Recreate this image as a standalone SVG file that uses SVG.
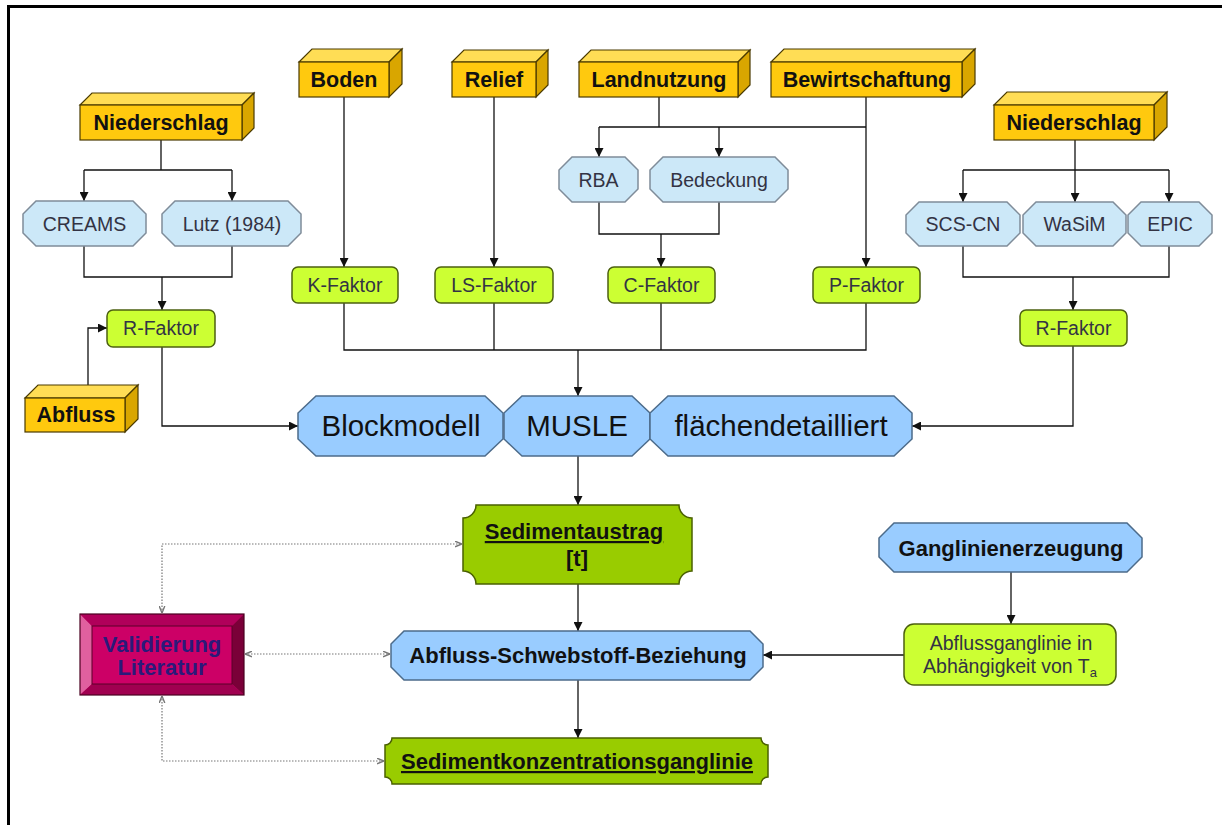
<svg xmlns="http://www.w3.org/2000/svg" width="1222" height="825" viewBox="0 0 1222 825">
  <style>
    text { font-family: "Liberation Sans", Arial, sans-serif; text-anchor: middle; }
    .src { font-size: 21.5px; font-weight: bold; fill: #111; }
    .sm  { font-size: 19.5px; fill: #333344; }
    .big { font-size: 29.5px; fill: #111; }
    .bd  { font-size: 22px; font-weight: bold; fill: #111; }
    .front { fill: #FFC90E; stroke: #4a3a00; stroke-width: 1.2; }
    .top   { fill: #FFDD55; stroke: #4a3a00; stroke-width: 1.2; }
    .side  { fill: #D9A600; stroke: #4a3a00; stroke-width: 1.2; }
    .model { fill: #CCE8F8; stroke: #7F8C99; stroke-width: 1.5; }
    .fac   { fill: #CCFF33; stroke: #4C6010; stroke-width: 1.5; }
    .main  { fill: #99CCFF; stroke: #4C6B8A; stroke-width: 1.5; }
    .out   { fill: #99CC00; stroke: #4A6000; stroke-width: 1.5; }
    .wire  { fill: none; stroke: #111; stroke-width: 1.3; }
    .dot   { fill: none; stroke: #777; stroke-width: 1.2; stroke-dasharray: 1.5 1.5; }
  </style>
  <defs>
    <marker id="arr" viewBox="0 0 10 10" refX="10" refY="5" markerUnits="userSpaceOnUse" markerWidth="9" markerHeight="9" preserveAspectRatio="none" orient="auto">
      <path d="M0,0 L10,5 L0,10 Z" fill="#111"/>
    </marker>
    <marker id="darr" viewBox="0 0 10 10" refX="10" refY="5" markerUnits="userSpaceOnUse" markerWidth="7" markerHeight="7" preserveAspectRatio="none" orient="auto-start-reverse">
      <path d="M0,1 L10,5 L0,9" fill="none" stroke="#777" stroke-width="2"/>
    </marker>
  </defs>

  <rect width="1222" height="825" fill="#FFFFFF"/>
  <!-- page frame -->
  <path d="M1222,6.5 H8.5 V825" fill="none" stroke="#000" stroke-width="3"/>

  <!-- connectors -->
  <g id="connectors">
    <path class="wire" d="M161,140 V170 M84,170 H232"/>
    <path class="wire" d="M84,170 V201" marker-end="url(#arr)"/>
    <path class="wire" d="M232,170 V201" marker-end="url(#arr)"/>
    <path class="wire" d="M84,246 V277 H232 V246"/>
    <path class="wire" d="M162,277 V310" marker-end="url(#arr)"/>
    <path class="wire" d="M344,97 V267" marker-end="url(#arr)"/>
    <path class="wire" d="M88,385 V328 H107" marker-end="url(#arr)"/>
    <path class="wire" d="M162,347 V426 H298" marker-end="url(#arr)"/>
    <path class="wire" d="M494,97 V267" marker-end="url(#arr)"/>
    <path class="wire" d="M659,97 V127 M599,127 H866"/>
    <path class="wire" d="M599,127 V157" marker-end="url(#arr)"/>
    <path class="wire" d="M719,127 V157" marker-end="url(#arr)"/>
    <path class="wire" d="M599,202 V234 H719 V202"/>
    <path class="wire" d="M661,234 V267" marker-end="url(#arr)"/>
    <path class="wire" d="M866,97 V267" marker-end="url(#arr)"/>
    <path class="wire" d="M1075,140 V202" marker-end="url(#arr)"/>
    <path class="wire" d="M963,170 H1169"/>
    <path class="wire" d="M963,170 V202" marker-end="url(#arr)"/>
    <path class="wire" d="M1169,170 V202" marker-end="url(#arr)"/>
    <path class="wire" d="M963,246 V277 H1169 V246"/>
    <path class="wire" d="M1073,277 V310" marker-end="url(#arr)"/>
    <path class="wire" d="M344,303 V350 H866 V303 M494,303 V350 M661,303 V350"/>
    <path class="wire" d="M578,350 V396" marker-end="url(#arr)"/>
    <path class="wire" d="M1073,346 V426 H912" marker-end="url(#arr)"/>
    <path class="wire" d="M578,456 V505" marker-end="url(#arr)"/>
    <path class="wire" d="M578,584 V631" marker-end="url(#arr)"/>
    <path class="wire" d="M578,680 V738" marker-end="url(#arr)"/>
    <path class="wire" d="M1011,572 V624" marker-end="url(#arr)"/>
    <path class="wire" d="M904,655 H763" marker-end="url(#arr)"/>
    <!-- validation links -->
    <path class="dot" d="M162,613 V544 H462" marker-start="url(#darr)" marker-end="url(#darr)"/>
    <path class="dot" d="M245,654 H390" marker-start="url(#darr)" marker-end="url(#darr)"/>
    <path class="dot" d="M162,696 V761 H384" marker-start="url(#darr)" marker-end="url(#darr)"/>
  </g>

  <!-- input data blocks -->
  <g id="niederschlag-links">
    <polygon class="top" points="80,105 92,93 254,93 242,105"/>
    <polygon class="side" points="242,105 254,93 254,128 242,140"/>
    <rect class="front" x="80" y="105" width="162" height="35"/>
    <text class="src" x="161" y="130">Niederschlag</text>
  </g>
  <g id="boden">
    <polygon class="top" points="299,62 312,49 402,49 389,62"/>
    <polygon class="side" points="389,62 402,49 402,84 389,97"/>
    <rect class="front" x="299" y="62" width="90" height="35"/>
    <text class="src" x="344" y="87">Boden</text>
  </g>
  <g id="relief">
    <polygon class="top" points="452,62 464,50 548,50 536,62"/>
    <polygon class="side" points="536,62 548,50 548,85 536,97"/>
    <rect class="front" x="452" y="62" width="84" height="35"/>
    <text class="src" x="494" y="87">Relief</text>
  </g>
  <g id="landnutzung">
    <polygon class="top" points="579,62 591,50 750,50 738,62"/>
    <polygon class="side" points="738,62 750,50 750,85 738,97"/>
    <rect class="front" x="579" y="62" width="159" height="35"/>
    <text class="src" x="659" y="87">Landnutzung</text>
  </g>
  <g id="bewirtschaftung">
    <polygon class="top" points="771,62 784,49 975,49 962,62"/>
    <polygon class="side" points="962,62 975,49 975,84 962,97"/>
    <rect class="front" x="771" y="62" width="191" height="35"/>
    <text class="src" x="867" y="87">Bewirtschaftung</text>
  </g>
  <g id="niederschlag-rechts">
    <polygon class="top" points="994,105 1007,92 1167,92 1154,105"/>
    <polygon class="side" points="1154,105 1167,92 1167,127 1154,140"/>
    <rect class="front" x="994" y="105" width="160" height="35"/>
    <text class="src" x="1074" y="130">Niederschlag</text>
  </g>
  <g id="abfluss">
    <polygon class="top" points="25,398 38,385 138,385 125,398"/>
    <polygon class="side" points="125,398 138,385 138,419 125,432"/>
    <rect class="front" x="25" y="398" width="100" height="34"/>
    <text class="src" x="76" y="422">Abfluss</text>
  </g>

  <!-- sub-models -->
  <g id="creams">
    <path class="model" d="M36,201 H133 L146,214 V233 L133,246 H36 L23,233 V214 Z"/>
    <text class="sm" x="84.5" y="230.5">CREAMS</text>
  </g>
  <g id="lutz">
    <path class="model" d="M175,201 H288 L301,214 V233 L288,246 H175 L162,233 V214 Z"/>
    <text class="sm" x="232" y="230.5">Lutz (1984)</text>
  </g>
  <g id="rba">
    <path class="model" d="M572,157 H625 L638,170 V189 L625,202 H572 L559,189 V170 Z"/>
    <text class="sm" x="598.5" y="186.5">RBA</text>
  </g>
  <g id="bedeckung">
    <path class="model" d="M663,157 H775 L788,170 V189 L775,202 H663 L650,189 V170 Z"/>
    <text class="sm" x="719" y="186.5">Bedeckung</text>
  </g>
  <g id="scs-cn">
    <path class="model" d="M919,202 H1007 L1020,215 V233 L1007,246 H919 L906,233 V215 Z"/>
    <text class="sm" x="963" y="231">SCS-CN</text>
  </g>
  <g id="wasim">
    <path class="model" d="M1036,202 H1113 L1126,215 V233 L1113,246 H1036 L1023,233 V215 Z"/>
    <text class="sm" x="1074.5" y="231">WaSiM</text>
  </g>
  <g id="epic">
    <path class="model" d="M1141,202 H1199 L1212,215 V233 L1199,246 H1141 L1128,233 V215 Z"/>
    <text class="sm" x="1170" y="231">EPIC</text>
  </g>

  <!-- USLE factors -->
  <g id="k-faktor">
    <rect class="fac" x="292" y="267" width="106" height="36" rx="6"/>
    <text class="sm" x="345" y="292">K-Faktor</text>
  </g>
  <g id="ls-faktor">
    <rect class="fac" x="435" y="267" width="118" height="36" rx="6"/>
    <text class="sm" x="494" y="292">LS-Faktor</text>
  </g>
  <g id="c-faktor">
    <rect class="fac" x="608" y="267" width="107" height="36" rx="6"/>
    <text class="sm" x="661.5" y="292">C-Faktor</text>
  </g>
  <g id="p-faktor">
    <rect class="fac" x="813" y="267" width="107" height="36" rx="6"/>
    <text class="sm" x="866.5" y="292">P-Faktor</text>
  </g>
  <g id="r-faktor-links">
    <rect class="fac" x="107" y="310" width="108" height="37" rx="6"/>
    <text class="sm" x="161" y="335">R-Faktor</text>
  </g>
  <g id="r-faktor-rechts">
    <rect class="fac" x="1020" y="310" width="107" height="36" rx="6"/>
    <text class="sm" x="1073.5" y="335">R-Faktor</text>
  </g>

  <!-- MUSLE model band -->
  <g id="blockmodell">
    <path class="main" d="M316,396 H485 L503,413 V439 L485,456 H316 L298,439 V413 Z"/>
    <text class="big" x="401" y="436">Blockmodell</text>
  </g>
  <g id="musle">
    <path class="main" d="M522,396 H632 L650,413 V439 L632,456 H522 L504,439 V413 Z"/>
    <text class="big" x="577" y="436">MUSLE</text>
  </g>
  <g id="flaechendetailliert">
    <path class="main" d="M668,396 H894 L912,413 V439 L894,456 H668 L650,439 V413 Z"/>
    <text class="big" x="781" y="436">flächendetailliert</text>
  </g>

  <!-- results -->
  <g id="sedimentaustrag">
    <path class="out" d="M476,505 H679 A13,13 0 0 0 692,518 V571 A13,13 0 0 0 679,584 H476 A13,13 0 0 0 463,571 V518 A13,13 0 0 0 476,505 Z"/>
    <text class="bd" x="574" y="539" text-decoration="underline">Sedimentaustrag</text>
    <text class="bd" x="577" y="566">[t]</text>
  </g>
  <g id="abfluss-schwebstoff">
    <path class="main" d="M404,631 H750 L763,644 V667 L750,680 H404 L391,667 V644 Z"/>
    <text class="bd" x="578" y="663">Abfluss-Schwebstoff-Beziehung</text>
  </g>
  <g id="sedimentkonzentrationsganglinie">
    <path class="out" d="M392,738 H761 A7,7 0 0 0 768,745 V777 A7,7 0 0 0 761,784 H392 A7,7 0 0 0 385,777 V745 A7,7 0 0 0 392,738 Z"/>
    <text class="bd" x="577" y="769" text-decoration="underline">Sedimentkonzentrationsganglinie</text>
  </g>
  <g id="ganglinienerzeugung">
    <path class="main" d="M894,523 H1127 L1142,538 V557 L1127,572 H894 L879,557 V538 Z"/>
    <text class="bd" x="1011" y="556">Ganglinienerzeugung</text>
  </g>
  <g id="abflussganglinie">
    <rect class="fac" x="904" y="624" width="212" height="61" rx="10"/>
    <text class="sm" x="1011" y="650">Abflussganglinie in</text>
    <text class="sm" x="1010" y="673">Abhängigkeit von T<tspan font-size="13" dy="4">a</tspan></text>
  </g>

  <!-- validation block -->
  <g id="validierung">
    <rect x="80" y="614" width="164" height="81" fill="#CC0066"/>
    <polygon points="80,614 92,626 92,684 80,695" fill="#E0609F"/>
    <polygon points="80,614 244,614 232,626 92,626" fill="#B0005A"/>
    <polygon points="244,614 244,695 232,684 232,626" fill="#7A0038"/>
    <polygon points="80,695 92,684 232,684 244,695" fill="#A00050"/>
    <rect x="80" y="614" width="164" height="81" fill="none" stroke="#4A0020" stroke-width="1.2"/>
    <rect x="92" y="626" width="140" height="58" fill="#CC0066" stroke="#5A0028" stroke-width="1"/>
    <text class="bd" x="162" y="652" fill="#2A1A7A" style="fill:#2A1A7A">Validierung</text>
    <text class="bd" x="162" y="675" style="fill:#2A1A7A">Literatur</text>
  </g>
</svg>
